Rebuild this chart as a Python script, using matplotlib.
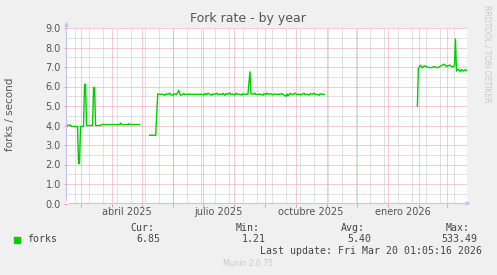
import matplotlib
matplotlib.use("Agg")
import matplotlib.pyplot as plt
import matplotlib.dates as mdates
import pandas as pd
from matplotlib.patches import Rectangle

# --- datos (dias desde START, forks/segundo) ---
START = "2025-02-14 12:00"
SPAN_DAYS = 400

seg1_days = [0, 2, 4, 5, 11, 12, 13, 14, 17, 18, 19, 20, 26, 27, 28, 29,
             34, 35, 53, 54, 55, 61, 62, 63, 73]
seg1_vals = [3.98, 4.02, 4.02, 3.95, 3.95, 2.05, 2.05, 3.95, 3.95, 6.10, 6.12, 4.00,
             4.00, 5.95, 5.95, 4.00, 4.00, 4.05, 4.05, 4.12, 4.05, 4.05, 4.09, 4.05, 4.05]

seg2_days = [83, 89, 90, 91, 93, 96, 98, 99, 101, 103, 104, 106, 107, 110, 112, 113,
             114, 116, 117, 118, 120, 135, 137, 138, 140, 141, 143, 145, 146, 148, 150,
             151, 153, 155, 156, 158, 159, 161, 163, 164, 166, 168, 169, 171, 173, 175,
             176, 178, 180, 181, 182, 183, 184, 186, 188, 189, 191, 194, 196, 197, 199,
             200, 202, 204, 206, 207, 209, 213, 215, 217, 219, 220, 221, 223, 225, 226,
             228, 230, 232, 233, 235, 237, 238, 240, 242, 243, 245, 247, 248, 250, 252,
             253, 255, 257]
seg2_vals = [3.50, 3.50, 4.60, 5.62, 5.60, 5.60, 5.55, 5.62, 5.60, 5.66, 5.58, 5.55,
             5.62, 5.60, 5.80, 5.62, 5.55, 5.60, 5.65, 5.58, 5.60, 5.60, 5.56, 5.64,
             5.58, 5.66, 5.60, 5.55, 5.62, 5.60, 5.66, 5.57, 5.62, 5.58, 5.65, 5.55,
             5.64, 5.60, 5.67, 5.58, 5.62, 5.56, 5.65, 5.60, 5.60, 5.56, 5.63, 5.60,
             5.60, 5.60, 6.20, 6.75, 5.62, 5.60, 5.66, 5.58, 5.60, 5.60, 5.55, 5.64,
             5.58, 5.66, 5.60, 5.63, 5.57, 5.62, 5.60, 5.60, 5.64, 5.56, 5.50, 5.62,
             5.52, 5.65, 5.58, 5.60, 5.66, 5.57, 5.62, 5.56, 5.60, 5.65, 5.58, 5.60,
             5.56, 5.64, 5.60, 5.66, 5.58, 5.60, 5.55, 5.63, 5.60, 5.60]

seg3_days = [350, 351, 353, 355, 357, 360, 363, 367, 370, 373, 377, 379, 382, 385,
             387, 388, 389, 391, 393, 394, 396, 398, 399]
seg3_vals = [5.00, 6.92, 7.09, 6.96, 7.06, 7.00, 6.96, 7.02, 6.96, 7.05, 7.14, 7.02,
             7.10, 7.00, 7.06, 8.43, 6.79, 6.89, 6.75, 6.87, 6.79, 6.86, 6.82]

month_labels = ["abril 2025", "julio 2025", "octubre 2025", "enero 2026"]
month_label_starts = ["2025-04-01", "2025-07-01", "2025-10-01", "2026-01-01"]

legend_name = "forks"
stat_names = ["Cur:", "Min:", "Avg:", "Max:"]
stat_vals = ["6.85", "1.21", "5.40", "533.49"]
last_update = "Last update: Fri Mar 20 01:05:16 2026"

W, H = 497, 275
t0 = pd.Timestamp(START)


def to_num(days):
    return mdates.date2num(t0 + pd.to_timedelta(days, unit="D"))


def fx(px):
    return px / W


def fy(py):
    return 1 - py / H


fig = plt.figure(figsize=(W / 100, H / 100), dpi=100, facecolor="#F0F0F0")
ax = fig.add_axes([fx(66.5), fy(203.5), 401 / W, 175.5 / H])
ax.set_facecolor("white")

x0 = mdates.date2num(t0)
ax.set_xlim(x0, x0 + SPAN_DAYS)
ax.set_ylim(0, 9)

# rejilla estilo rrdtool (punteada)
dot = (0, (1, 1))
minor_col = "#C4C4C4"
major_col = "#EC9C9C"
grid_kw = dict(lw=0.72, ls=dot)
for d in pd.date_range("2025-02-23", "2026-03-21", freq="14D"):
    ax.axvline(mdates.date2num(d), color=minor_col, zorder=1, **grid_kw)
for v in [i + 0.5 for i in range(9)]:
    ax.axhline(v, color=minor_col, zorder=1, **grid_kw)
for d in pd.date_range("2025-03-01", "2026-03-01", freq="MS"):
    ax.axvline(mdates.date2num(d), color=major_col, zorder=2, **grid_kw)
for v in range(1, 10):
    ax.axhline(v, color=major_col, zorder=2, **grid_kw)

# serie
for days, vals in [(seg1_days, seg1_vals), (seg2_days, seg2_vals), (seg3_days, seg3_vals)]:
    ax.plot(to_num(days), vals, color="#00CC00", lw=1.0, zorder=5)

# ejes
for s in ax.spines.values():
    s.set_visible(False)
axis_col = "#C4C4F4"
ax.annotate("", xy=(0, 1 + 9 / 175.5), xytext=(0, 0), xycoords="axes fraction",
            arrowprops=dict(arrowstyle="-|>", color=axis_col, lw=0.8,
                            mutation_scale=6), annotation_clip=False)
ax.annotate("", xy=(1 + 6 / 401, 0), xytext=(0, 0), xycoords="axes fraction",
            arrowprops=dict(arrowstyle="-|>", color=axis_col, lw=0.8,
                            mutation_scale=6), annotation_clip=False)

ax.set_yticks(range(10))
ax.set_yticklabels([f"{v:.1f}" for v in range(10)])
ax.tick_params(axis="y", length=2, width=0.7, color=major_col, pad=2,
               labelsize=7, labelcolor="#555555")
ax.set_xticks([mdates.date2num(d) for d in pd.date_range("2025-03-01", "2026-03-01", freq="MS")])
ax.set_xticklabels([])
ax.tick_params(axis="x", length=2, width=0.7, color=major_col)

for lab, st in zip(month_labels, month_label_starts):
    xm = mdates.date2num(pd.Timestamp(st) + pd.Timedelta(days=15))
    ax.text(xm, -0.047, lab, transform=ax.get_xaxis_transform(), ha="center",
            va="center", fontsize=7, color="#555555")

# textos
fig.text(fx(248), fy(18.5), "Fork rate - by year", ha="center", va="center",
         fontsize=9, color="#555555")
fig.text(fx(10), fy(114), "forks / second", rotation=90, ha="center", va="center",
         fontsize=7.5, color="#555555")
fig.text(fx(487), fy(53.5), "RRDTOOL / TOBI OETIKER", rotation=270, ha="center",
         va="center", fontsize=5.5, color="#C8C8C8")

fig.patches.append(Rectangle((fx(13.5), fy(242.5)), 6 / W, 6 / H, color="#00CC00",
                             transform=fig.transFigure, figure=fig))
mono = dict(family="DejaVu Sans Mono", fontsize=7.1, color="#444444", va="center")
fig.text(fx(27), fy(239.5), legend_name, ha="left", **mono)
head_x = [154.5, 259.3, 365, 470]
val_x = [160.7, 266, 371, 477.3]
for name, val, hx, vx in zip(stat_names, stat_vals, head_x, val_x):
    fig.text(fx(hx), fy(228), name, ha="right", **mono)
    fig.text(fx(vx), fy(239.5), val, ha="right", **mono)
fig.text(fx(482.5), fy(251), last_update, ha="right", **mono)
fig.text(fx(248), fy(264), "Munin 2.0.75", ha="center", va="center", fontsize=5.5,
         color="#C8C8C8")

fig.savefig("out.png", dpi=100, facecolor=fig.get_facecolor())
